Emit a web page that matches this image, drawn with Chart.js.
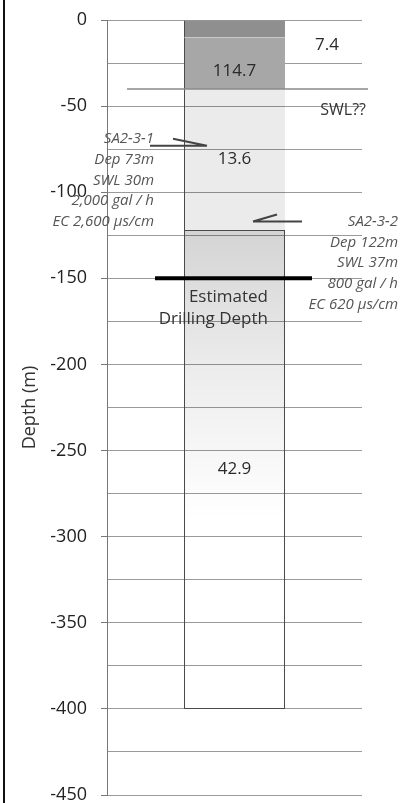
<!DOCTYPE html>
<html>
<head>
<meta charset="utf-8">
<script src="https://cdn.jsdelivr.net/npm/chart.js@4.4.0/dist/chart.umd.min.js"></script>
<style>
  html, body { margin: 0; padding: 0; background: #fff; }
  #wrap { position: relative; width: 414px; height: 803px; }
  #edge { position: absolute; left: 3px; top: 0; width: 2px; height: 803px; background: #111; }
  canvas { display: block; }
</style>
</head>
<body>
<div id="wrap">
  <div id="edge"></div>
  <canvas id="chart" width="414" height="803"></canvas>
</div>
<script>
// layers of the borehole log, top to bottom (thickness in m)
const layerNames = ['Layer 1', 'Layer 2', 'Layer 3', 'Layer 4'];
const layerThickness = [10, 30, 82, 278];
const layerLabels = ['7.4', '114.7', '13.6', '42.9'];

const depthMin = -450;
const depthMax = 0;
const depthStep = 25;

const swlDepth = -40;
const drillDepth = -150;

const wellArrowDepth = [-73, -117];
const wellTextDepth = [-69, -117];
const well1Lines = ['SA2-3-1', 'Dep 73m', 'SWL 30m', '2,000 gal / h', 'EC 2,600 µs/cm'];
const well2Lines = ['SA2-3-2', 'Dep 122m', 'SWL 37m', '800 gal / h', 'EC 620 µs/cm'];

const ctx = document.getElementById('chart').getContext('2d');

function fadeFill(context) {
  const chart = context.chart;
  const y = chart.scales.y;
  if (!y || !chart.chartArea) return 'rgba(0,0,0,0.12)';
  const top = y.getPixelForValue(-(layerThickness[0] + layerThickness[1] + layerThickness[2]));
  const bottom = y.getPixelForValue(-290);
  const g = chart.ctx.createLinearGradient(0, top, 0, bottom);
  g.addColorStop(0, 'rgba(0,0,0,0.17)');
  g.addColorStop(0.5, 'rgba(0,0,0,0.07)');
  g.addColorStop(1, 'rgba(0,0,0,0)');
  return g;
}

const fills = ['#8f8f8f', '#a7a7a7', 'rgba(0,0,0,0.08)', fadeFill];
const edges = [
  { top: 0, right: 0, bottom: 0, left: 1 },
  { top: 0, right: 0, bottom: 0, left: 1 },
  { top: 0, right: 0, bottom: 0, left: 1 },
  1
];

const annotations = {
  id: 'annotations',
  afterDatasetsDraw(chart) {
    const c = chart.ctx;
    const y = chart.scales.y;
    const area = chart.chartArea;
    const bar = chart.getDatasetMeta(0).data[0];
    const half = bar.width / 2;
    const left = bar.x - half;
    const right = bar.x + half;

    c.save();

    // layer value labels
    c.fillStyle = '#2a2a2a';
    c.font = '17px "Open Sans"';
    c.textAlign = 'center';
    c.textBaseline = 'middle';
    let acc = 0;
    layerThickness.forEach((t, i) => {
      const mid = y.getPixelForValue(-(acc + t / 2));
      acc += t;
      if (i === 0) c.fillText(layerLabels[i], right + 42, mid + 17);
      else if (i === 1) c.fillText(layerLabels[i], bar.x, mid + 8);
      else c.fillText(layerLabels[i], bar.x, mid);
    });

    // SWL?? line
    const ys = y.getPixelForValue(swlDepth);
    c.strokeStyle = '#8a8a8a';
    c.lineWidth = 1.5;
    c.beginPath();
    c.moveTo(area.left + 20, ys);
    c.lineTo(area.right + 6, ys);
    c.stroke();
    c.textAlign = 'right';
    c.font = '16px "Open Sans"';
    c.fillStyle = '#333';
    c.fillText('SWL??', area.right + 4, ys + 22);

    // estimated drilling depth
    const yd = y.getPixelForValue(drillDepth);
    c.strokeStyle = '#000';
    c.lineWidth = 4;
    c.beginPath();
    c.moveTo(left - 29, yd);
    c.lineTo(right + 27, yd);
    c.stroke();
    c.fillStyle = '#333';
    c.font = '17px "Open Sans"';
    c.textAlign = 'right';
    c.fillText('Estimated', right - 17, yd + 19);
    c.fillText('Drilling Depth', right - 17, yd + 41);

    // well arrows
    c.strokeStyle = '#444';
    c.lineWidth = 2;
    const a1 = y.getPixelForValue(wellArrowDepth[0]);
    c.beginPath();
    c.moveTo(left - 34, a1);
    c.lineTo(left + 23, a1);
    c.moveTo(left - 11, a1 - 7);
    c.lineTo(left + 23, a1);
    c.stroke();
    const a2 = y.getPixelForValue(wellArrowDepth[1]);
    c.beginPath();
    c.moveTo(right + 17, a2);
    c.lineTo(right - 32, a2);
    c.moveTo(right - 8, a2 - 7);
    c.lineTo(right - 32, a2);
    c.stroke();

    // well notes
    c.fillStyle = '#555';
    c.font = 'italic 15px "Open Sans"';
    c.textAlign = 'right';
    const t1 = y.getPixelForValue(wellTextDepth[0]);
    well1Lines.forEach((s, i) => c.fillText(s, left - 30, t1 + i * 20.8));
    const t2 = y.getPixelForValue(wellTextDepth[1]);
    well2Lines.forEach((s, i) => c.fillText(s, area.right + 36, t2 + i * 20.8));

    c.restore();
  }
};

new Chart(ctx, {
  type: 'bar',
  data: {
    labels: ['Borehole'],
    datasets: layerNames.map((name, i) => ({
      label: name,
      data: [-layerThickness[i]],
      backgroundColor: fills[i],
      borderColor: '#4a4a4a',
      borderWidth: edges[i],
      borderSkipped: false,
      barPercentage: 0.396,
      categoryPercentage: 1
    }))
  },
  options: {
    responsive: false,
    animation: false,
    layout: { padding: { top: 20, right: 52, bottom: 8, left: 0 } },
    plugins: {
      legend: { display: false },
      tooltip: { enabled: false }
    },
    scales: {
      x: { display: false, stacked: true },
      y: {
        stacked: true,
        min: depthMin,
        max: depthMax,
        ticks: {
          stepSize: depthStep,
          autoSkip: false,
          padding: 14,
          color: '#222',
          font: { family: 'Open Sans', size: 18 },
          callback: (v) => (v % 50 === 0 ? v : '')
        },
        grid: {
          color: '#9a9a9a',
          lineWidth: 1,
          tickLength: 6,
          tickColor: (c) => (c.tick && c.tick.value % 50 === 0 ? '#777' : 'rgba(0,0,0,0)')
        },
        border: { color: '#777', width: 1 },
        title: {
          display: true,
          text: 'Depth (m)',
          color: '#333',
          font: { family: 'Open Sans', size: 18 },
          padding: { top: 19, bottom: 0 }
        },
        afterFit: (s) => {
          s.width = 107;
          s.paddingTop = 0;
          s.paddingBottom = 0;
        }
      }
    }
  },
  plugins: [annotations]
});
</script>
</body>
</html>
